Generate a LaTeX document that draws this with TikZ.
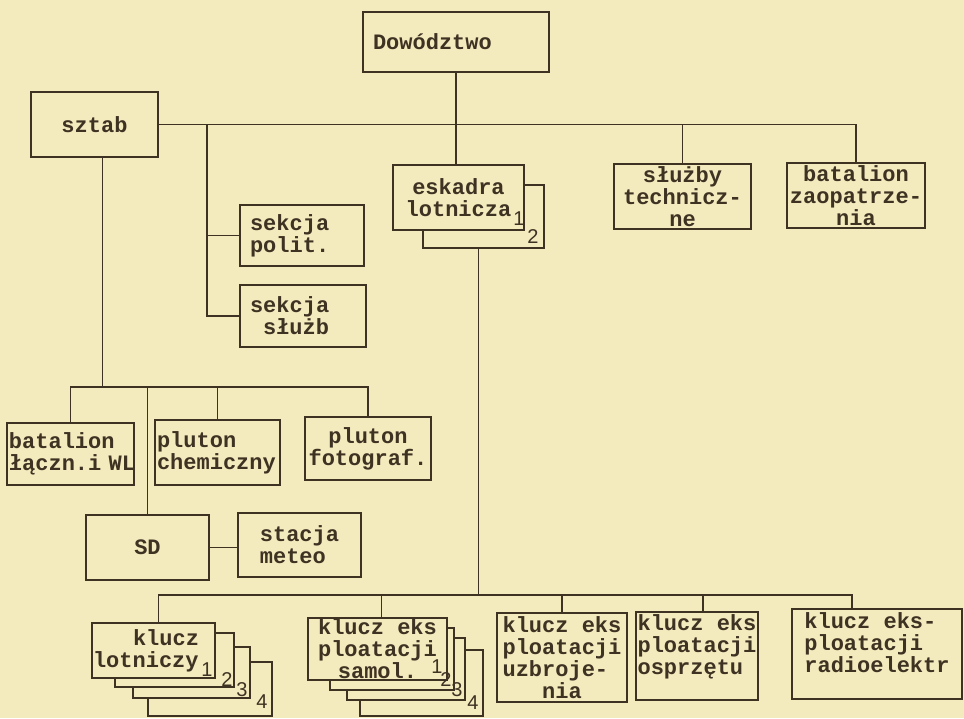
\documentclass[tikz,border=0pt]{standalone}
\usepackage{fontspec}
\usepackage{xcolor}
\usepackage{tikz}
\usetikzlibrary{calc}
\newfontfamily\tw{Liberation Mono}
\newfontfamily\nf{Liberation Sans}
\definecolor{paper}{RGB}{243,234,190}
\definecolor{ink}{RGB}{62,50,34}
\tikzset{
  unit/.style={
    draw=ink,
    fill=paper,
    line width=2pt,
    inner xsep=2pt,
    inner ysep=0pt,
    text=ink,
    font=\fontsize{22}{22}\tw\bfseries
  },
  link/.style={
    draw=ink,
    line width=1.6pt
  },
  num/.style={
    inner sep=0pt,
    text=ink,
    font=\fontsize{20}{20}\nf
  }
}
\begin{document}
\begin{tikzpicture}[x=1pt,y=-1pt]
  \useasboundingbox (0,0) rectangle (964,718);
  \fill[paper] (0,0) rectangle (964,718);

  % top level
  \node[unit, minimum height=60pt, text width=166pt, inner xsep=10pt, align=left] (dow) at (456,42) {Dowództwo};
  \node[unit, minimum width=127pt, minimum height=65pt] (sztab) at (94.5,124.5) {sztab};
  \node[unit, minimum height=61pt, text width=104pt, inner xsep=10pt, align=left] (polit) at (302,235.5) {sekcja\\polit.};
  \node[unit, minimum height=62pt, text width=106pt, inner xsep=10pt, align=left] (sluzb) at (303,316) {sekcja\\\hspace*{13pt}służb};
  \node[unit, minimum width=121pt, minimum height=63pt] (esk2) at (483.5,216.5) {};
  \node[unit, minimum width=131pt, minimum height=65pt, align=center] (esk) at (458.5,197.5) {eskadra\\lotnicza};
  \node[unit, minimum width=137pt, minimum height=65pt, align=center] (sluzby) at (682.5,196.5) {służby\\technicz-\\ne};
  \node[unit, minimum width=138pt, minimum height=65pt, align=center] (zaop) at (856,195.5) {batalion\\zaopatrze-\\nia};
  \node[num] (esk-n1) at (519,219) {1};
  \node[num] (esk-n2) at (533,237) {2};

  % sztab group
  \node[unit, minimum height=62pt, text width=123pt, align=left] (bat) at (70.5,454) {batalion\\łączn.i~WL};
  \node[unit, minimum height=65pt, text width=121pt, align=left] (chem) at (217.5,452.5) {pluton\\chemiczny};
  \node[unit, minimum width=126pt, minimum height=63pt, align=center] (foto) at (368,448.5) {pluton\\fotograf.};
  \node[unit, minimum width=123pt, minimum height=65pt] (sd) at (147.5,547.5) {SD};
  \node[unit, minimum width=123pt, minimum height=64pt, align=left] (meteo) at (299.5,545) {stacja\\meteo};

  % klucze
  \node[unit, minimum width=124pt, minimum height=54pt] (lot4) at (210,689) {};
  \node[unit, minimum width=117pt, minimum height=51pt] (lot3) at (191.5,672.5) {};
  \node[unit, minimum width=119pt, minimum height=54pt] (lot2) at (174.5,660) {};
  \node[unit, minimum height=55pt, text width=121pt, inner xsep=1pt, align=left] (lot1) at (153.5,650.5) {\hspace*{40pt}klucz\\lotniczy};
  \node[unit, minimum width=123pt, minimum height=66pt] (samol4) at (421.5,683) {};
  \node[unit, minimum width=118pt, minimum height=62pt] (samol3) at (406,669) {};
  \node[unit, minimum width=124pt, minimum height=62pt] (samol2) at (392,659) {};
  \node[unit, minimum width=139pt, minimum height=62pt, align=center] (samol1) at (377.5,649) {klucz eks\\ploatacji\\samol.};
  \node[unit, minimum width=130pt, minimum height=89pt, align=left] (uzbr) at (562,657.5) {klucz eks\\ploatacji\\uzbroje-\\~~~nia};
  \node[unit, minimum width=122pt, minimum height=88pt, align=left] (ospr) at (697,656) {klucz eks\\ploatacji\\osprzętu\\~};
  \node[unit, minimum width=170pt, minimum height=90pt, align=left] (radio) at (877,654) {klucz eks-\\ploatacji\\radioelektr\\~};
  \node[num] (lot-n1) at (207,670) {1};
  \node[num] (lot-n2) at (227,680) {2};
  \node[num] (lot-n3) at (242,690) {3};
  \node[num] (lot-n4) at (262,702) {4};
  \node[num] (samol-n1) at (437,667) {1};
  \node[num] (samol-n2) at (446,680) {2};
  \node[num] (samol-n3) at (457,690) {3};
  \node[num] (samol-n4) at (473,703) {4};

  % connectors
  \coordinate (sek) at (207,0);
  \coordinate (szt-d) at ([xshift=8pt]sztab.south);
  \coordinate (lbus) at (0,387);
  \coordinate (esk-d) at ([xshift=-5pt]esk2.south);
  \coordinate (bbus) at (0,595);
  \coordinate (lot-in) at ([xshift=5pt]lot1.north);
  \coordinate (samol-in) at ([xshift=4pt]samol1.north);
  \coordinate (ospr-in) at ([xshift=6pt]ospr.north);
  \coordinate (radio-in) at ([xshift=-25pt]radio.north);

  \draw[link] (sztab.east) -- (zaop.north |- sztab.east) -- (zaop.north);
  \draw[link] (sluzby.north) -- (sluzby.north |- sztab.east);
  \draw[link] (dow.south) -- (dow.south |- esk.north);
  \draw[link] (sek |- sztab.east) |- (sluzb.west);
  \draw[link] (polit.west) -- (polit.west -| sek);

  \draw[link] (szt-d) -- (szt-d |- lbus);
  \draw[link] (bat.north) -- (bat.north |- lbus) -- (foto.north |- lbus) -- (foto.north);
  \draw[link] (chem.north) -- (chem.north |- lbus);
  \draw[link] (sd.north) -- (sd.north |- lbus);
  \draw[link] (sd.east) -- (sd.east -| meteo.west);

  \draw[link] (esk-d) -- (esk-d |- bbus);
  \draw[link] (lot-in) -- (lot-in |- bbus) -- (radio-in |- bbus) -- (radio-in);
  \draw[link] (samol-in) -- (samol-in |- bbus);
  \draw[link] (uzbr.north) -- (uzbr.north |- bbus);
  \draw[link] (ospr-in) -- (ospr-in |- bbus);
\end{tikzpicture}
\end{document}
